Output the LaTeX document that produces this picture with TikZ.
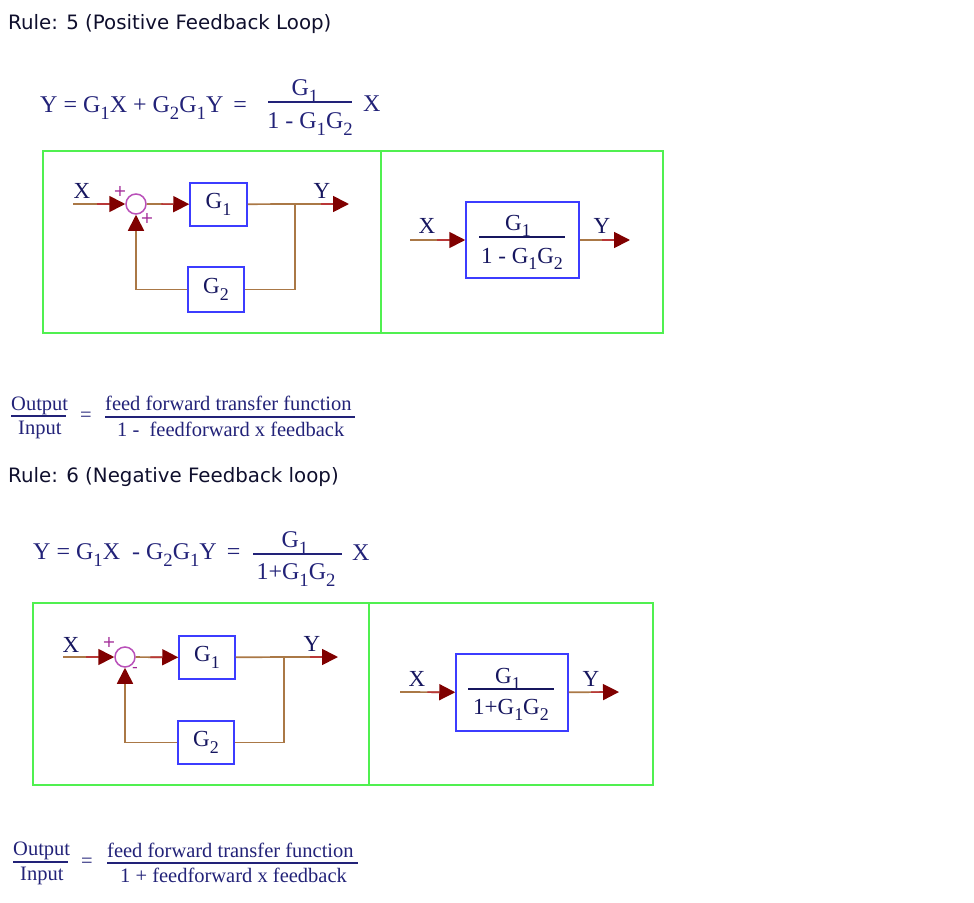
\documentclass[tikz,border=0pt]{standalone}
\usepackage{fontspec}
\setmainfont{Liberation Serif}
\newfontfamily\verdanaf{DejaVu Sans}
\usetikzlibrary{arrows.meta,calc}
\definecolor{eqblue}{RGB}{34,34,120}
\definecolor{titlecol}{RGB}{15,15,45}
\definecolor{lblblue}{RGB}{22,22,95}
\definecolor{boxblue}{RGB}{60,60,255}
\definecolor{framegreen}{RGB}{80,240,80}
\definecolor{linebrown}{RGB}{170,120,70}
\definecolor{tipred}{RGB}{128,0,0}
\definecolor{segred}{RGB}{185,55,55}
\definecolor{summag}{RGB}{185,80,185}
\definecolor{signpur}{RGB}{160,40,150}
\newcommand{\lsub}[1]{\raisebox{-0.3em}{\scalebox{0.78}{#1}}}
\begin{document}
\begin{tikzpicture}[x=1pt,y=-1pt,
  ttl/.style={font=\verdanaf\fontsize{19.8}{22}\selectfont, text=titlecol, inner sep=0, anchor=base west},
  eq/.style={font=\fontsize{24}{28}\selectfont, text=eqblue, inner sep=0},
  req/.style={font=\fontsize{23}{26}\selectfont, text=lblblue, inner sep=0, anchor=base},
  ratio/.style={font=\fontsize{20.5}{24}\selectfont, text=eqblue, inner sep=0},
  lbl/.style={font=\fontsize{23}{26}\selectfont, text=lblblue, inner sep=0, anchor=base},
  blk/.style={draw=boxblue, line width=1.5pt, font=\fontsize{23}{26}\selectfont, text=lblblue, inner sep=0},
  frm/.style={draw=framegreen, line width=1.6pt},
  sumj/.style={circle, draw=summag, line width=1.5pt, minimum size=20pt, inner sep=0},
  sgn/.style={text=signpur, font=\verdanaf\fontsize{16}{18}\selectfont, inner sep=0},
  wire/.style={draw=linebrown, line width=1.7pt},
  feed/.style={wire, -{Rectangle[length=12pt,width=1.7pt,line width=0pt,color=segred]Triangle[length=16pt,width=16pt,color=tipred]}},
  feedup/.style={wire, -{Triangle[length=16pt,width=16pt,color=tipred]}},
  fbar/.style={draw=eqblue, line width=1.3pt}
]
\useasboundingbox (0,0) rectangle (974,902);

% ---------- Rule 5 ----------
\node[ttl] (t1) at (8,29) {Rule: 5 (Positive Feedback Loop)};

\node[eq, anchor=base west] (e1) at (40,112) {Y = G\lsub{1}X + G\lsub{2}G\lsub{1}Y \,=};
\node[eq, anchor=base] (e1n) at (305,95) {G\lsub{1}};
\draw[fbar] (268,102) -- (352,102);
\node[eq, anchor=base] (e1d) at (310,128) {1 - G\lsub{1}G\lsub{2}};
\node[eq, anchor=base west] (e1x) at (363,111) {X};

\draw[frm] (43,151) rectangle (381,333);
\draw[frm] (381,151) rectangle (663,333);

\coordinate (in1) at (73,204);
\node[sumj] (s1) at (136,204) {};
\node[blk, minimum width=57pt, minimum height=43pt] (g1a) at (218.5,204.3) {G\lsub{1}};
\coordinate (br1) at (295,204);
\coordinate (out1) at (349,204);
\node[blk, minimum width=56pt, minimum height=45pt] (g2a) at (216,289.5) {G\lsub{2}};
\node[lbl] (x1) at (82,198) {X};
\node[lbl] (y1) at (322,198) {Y};
\node[sgn] (p1a) at (120,191) {+};
\node[sgn] (p1b) at (147,218) {+};

\draw[feed] (in1) -- (s1);
\draw[feed] (s1) -- (g1a);
\draw[wire] (g1a) -- (br1);
\draw[feed] (br1) -- (out1);
\draw[wire] (br1) |- (g2a);
\draw[feedup] (g2a) -| (s1);

\coordinate (rin1) at (410,240);
\node[draw=boxblue, line width=1.5pt, minimum width=113pt, minimum height=76pt, inner sep=0] (r1) at (522.5,240) {};
\coordinate (rout1) at (630,240);
\node[req] (r1n) at (518,230) {G\lsub{1}};
\draw[fbar, draw=lblblue] (479,237) -- (565,237);
\node[req] (r1d) at (522,263) {1 - G\lsub{1}G\lsub{2}};
\node[lbl] (rx1) at (427,233) {X};
\node[lbl] (ry1) at (602,233) {Y};
\draw[feed] (rin1) -- (r1);
\draw[feed] (r1) -- (rout1);

\node[ratio, anchor=base west] (o1) at (11,410) {Output};
\draw[fbar] (11,416) -- (66,416);
\node[ratio, anchor=base west] (i1) at (18,434) {Input};
\node[ratio] (q1) at (86,417) {=};
\node[ratio, anchor=base west] (n1) at (105,410) {feed forward transfer function};
\draw[fbar] (105,417) -- (355,417);
\node[ratio, anchor=base west] (d1) at (117,436) {1 -\ \ feedforward x feedback};

% ---------- Rule 6 ----------
\node[ttl] (t2) at (8,482) {Rule: 6 (Negative Feedback loop)};

\node[eq, anchor=base west] (e2) at (33,559) {Y = G\lsub{1}X \ - G\lsub{2}G\lsub{1}Y \,=};
\node[eq, anchor=base] (e2n) at (295,547) {G\lsub{1}};
\draw[fbar] (253,554) -- (342,554);
\node[eq, anchor=base] (e2d) at (296,579) {1+G\lsub{1}G\lsub{2}};
\node[eq, anchor=base west] (e2x) at (352,560) {X};

\draw[frm] (33,603) rectangle (369,785);
\draw[frm] (369,603) rectangle (653,785);

\coordinate (in2) at (63,657);
\node[sumj] (s2) at (125,657) {};
\node[blk, minimum width=56pt, minimum height=43pt] (g1b) at (207,657.5) {G\lsub{1}};
\coordinate (br2) at (284,657);
\coordinate (out2) at (338,657);
\node[blk, minimum width=56pt, minimum height=43pt] (g2b) at (206,742.5) {G\lsub{2}};
\node[lbl] (x2) at (71,652) {X};
\node[lbl] (y2) at (312,651) {Y};
\node[sgn] (p2a) at (109,642) {+};
\node[sgn] (m2b) at (135,670) {-};

\draw[feed] (in2) -- (s2);
\draw[feed] (s2) -- (g1b);
\draw[wire] (g1b) -- (br2);
\draw[feed] (br2) -- (out2);
\draw[wire] (br2) |- (g2b);
\draw[feedup] (g2b) -| (s2);

\coordinate (rin2) at (400,692);
\node[draw=boxblue, line width=1.5pt, minimum width=112pt, minimum height=77pt, inner sep=0] (r2) at (512,692.5) {};
\coordinate (rout2) at (619,692);
\node[req] (r2n) at (508,683) {G\lsub{1}};
\draw[fbar, draw=lblblue] (468,689) -- (554,689);
\node[req] (r2d) at (511,714) {1+G\lsub{1}G\lsub{2}};
\node[lbl] (rx2) at (417,686) {X};
\node[lbl] (ry2) at (591,686) {Y};
\draw[feed] (rin2) -- (r2);
\draw[feed] (r2) -- (rout2);

\node[ratio, anchor=base west] (o2) at (13,855) {Output};
\draw[fbar] (13,862) -- (68,862);
\node[ratio, anchor=base west] (i2) at (20,880) {Input};
\node[ratio] (q2) at (87,863) {=};
\node[ratio, anchor=base west] (n2) at (107,857) {feed forward transfer function};
\draw[fbar] (107,863) -- (358,863);
\node[ratio, anchor=base west] (d2) at (120,882) {1 + feedforward x feedback};
\end{tikzpicture}
\end{document}
